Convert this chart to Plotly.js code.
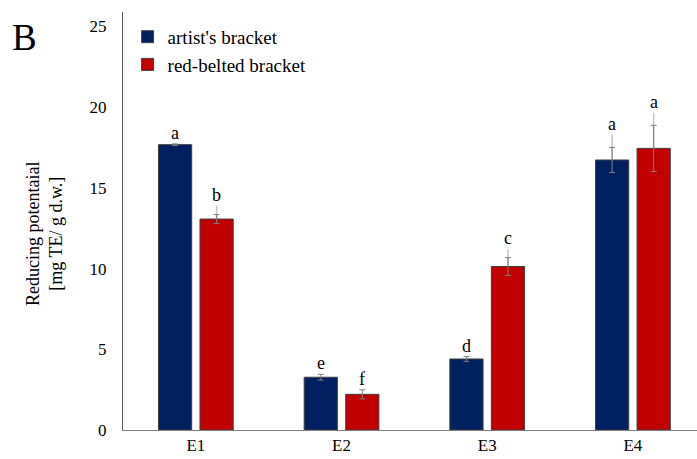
<!DOCTYPE html>
<html>
<head>
<meta charset="utf-8">
<script src="https://cdn.plot.ly/plotly-3.0.1.min.js"></script>
<style>html,body{margin:0;padding:0;background:#fff;}#chart{width:697px;height:459px;}</style>
</head>
<body>
<div id="chart"></div>
<script>
const categories = ["E1", "E2", "E3", "E4"];
const seriesNames = ["artist's bracket", "red-belted bracket"];
const artistValues = [17.68, 3.27, 4.40, 16.73];
const artistErr = [0.05, 0.18, 0.15, 0.78];
const artistErrExtra = [0, 0, 0, 1.57];
const redValues = [13.07, 2.21, 10.13, 17.45];
const redErr = [0.28, 0.28, 0.55, 1.43];
const redErrExtra = [0.80, 0, 1.07, 2.20];
const artistLetters = ["a", "e", "d", "a"];
const redLetters = ["b", "f", "c", "a"];
const yTickVals = [0, 5, 10, 15, 20, 25];

const FONT = 'Liberation Serif, Times New Roman, serif';
const BLUE = '#002060';
const RED = '#C00000';

function extraTrace(vals, extra, group) {
  return {
    type: 'bar', x: categories, y: vals, offsetgroup: group,
    marker: {color: 'rgba(0,0,0,0)', line: {width: 0}},
    error_y: {type: 'data', symmetric: false, array: extra, arrayminus: extra.map(() => 0),
              color: '#c4c4c4', thickness: 1.5, width: 0},
    showlegend: false, hoverinfo: 'skip'
  };
}
function mainTrace(vals, err, group, name, color) {
  return {
    type: 'bar', x: categories, y: vals, offsetgroup: group, name: name,
    marker: {color: color, line: {color: '#404040', width: 1}},
    error_y: {type: 'data', array: err, color: '#7f7f7f', thickness: 1, width: 3}
  };
}

const data = [
  extraTrace(artistValues, artistErrExtra, 'g1'),
  extraTrace(redValues, redErrExtra, 'g2'),
  mainTrace(artistValues, artistErr, 'g1', seriesNames[0], BLUE),
  mainTrace(redValues, redErr, 'g2', seriesNames[1], RED)
];

const annotations = [];
categories.forEach((c, i) => {
  annotations.push({x: c, y: artistValues[i] + Math.max(artistErr[i], artistErrExtra[i]),
    text: artistLetters[i], showarrow: false, xshift: -20.7, yanchor: 'bottom', yshift: -1,
    font: {family: FONT, size: 18, color: '#000'}});
  annotations.push({x: c, y: redValues[i] + Math.max(redErr[i], redErrExtra[i]),
    text: redLetters[i], showarrow: false, xshift: 20.7, yanchor: 'bottom', yshift: -1,
    font: {family: FONT, size: 18, color: '#000'}});
});
annotations.push({xref: 'paper', yref: 'paper', x: -0.172, y: 0.94, xanchor: 'center', yanchor: 'middle',
  text: 'B', showarrow: false, font: {family: FONT, size: 37, color: '#000'}});
annotations.push({xref: 'paper', yref: 'paper', x: -0.137, y: 0.47, xanchor: 'center', yanchor: 'middle',
  textangle: -90, text: 'Reducing potentaial<br>[mg TE/ g d.w.]', showarrow: false,
  font: {family: FONT, size: 18, color: '#000'}});

const layout = {
  width: 697, height: 459,
  margin: {l: 123, r: 0, t: 12, b: 29},
  paper_bgcolor: '#fff', plot_bgcolor: '#fff',
  font: {family: FONT, size: 17, color: '#000'},
  barmode: 'group', bargap: 0.43, bargroupgap: 0.2,
  xaxis: {type: 'category', range: [-0.5, 3.44], showline: true, linecolor: '#7f7f7f', linewidth: 1,
    ticks: '', showgrid: false, zeroline: false, tickfont: {family: FONT, size: 17, color: '#000'},
    ticklabelstandoff: 0},
  yaxis: {range: [0, 25.9], tickvals: yTickVals, showline: true, linecolor: '#595959', linewidth: 1,
    ticks: '', showgrid: false, zeroline: false, tickfont: {family: FONT, size: 17, color: '#000'},
    ticklabelstandoff: 12},
  legend: {x: 0.008, y: 0.986, xanchor: 'left', yanchor: 'top', bgcolor: 'rgba(0,0,0,0)',
    font: {family: FONT, size: 19, color: '#000'}, tracegroupgap: 0},
  annotations: annotations,
  showlegend: true
};

Plotly.newPlot('chart', data, layout, {displayModeBar: false, staticPlot: true});
</script>
</body>
</html>
